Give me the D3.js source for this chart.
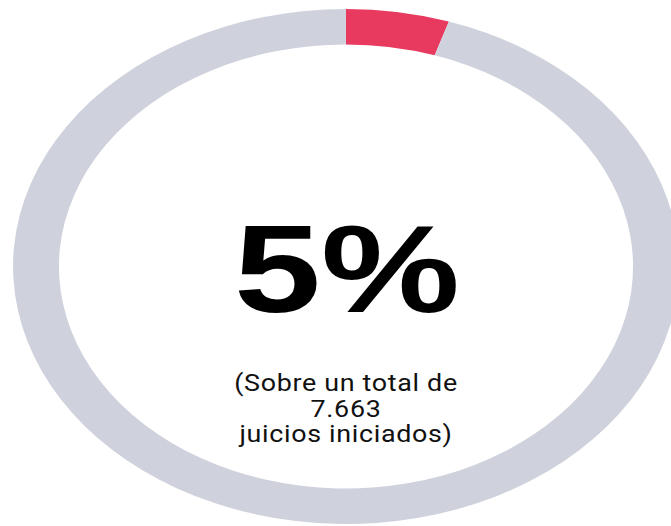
<!DOCTYPE html>
<html>
<head>
<meta charset="utf-8">
<script src="https://cdn.jsdelivr.net/npm/d3@7/dist/d3.min.js"></script>
<style>
  html, body { margin: 0; padding: 0; background: #ffffff; }
  svg { display: block; }
</style>
</head>
<body>
<div id="chart"></div>
<script>
// Share of trials started, out of the total
const categories = ["Juicios", "Resto"];
const values = [5, 95];
const totalTrials = "7.663";
const subtitleLines = ["(Sobre un total de", totalTrials, "juicios iniciados)"];
const colors = ["#e8395f", "#cfd2dc"];

const width = 671, height = 526;
const cx = 346, cy = 266.5;
const outerR = 257.5, innerR = 222;
const stretchX = 1.293;

const svg = d3.select("#chart").append("svg")
  .attr("width", width)
  .attr("height", height);

svg.append("rect").attr("width", width).attr("height", height).attr("fill", "#ffffff");

const color = d3.scaleOrdinal().domain(categories).range(colors);

const pie = d3.pie().sort(null).value(d => d.value);
const arc = d3.arc().innerRadius(innerR).outerRadius(outerR);

const data = categories.map((c, i) => ({ name: c, value: values[i] }));

const ring = svg.append("g")
  .attr("transform", `translate(${cx},${cy}) scale(${stretchX},1)`);

ring.selectAll("path")
  .data(pie(data))
  .join("path")
  .attr("d", arc)
  .attr("fill", d => color(d.data.name));

// Central percentage
const share = values[0] / d3.sum(values);
svg.append("text")
  .attr("transform", `translate(${cx + 1},312) scale(1.26,1)`)
  .attr("text-anchor", "middle")
  .attr("font-family", "'Liberation Sans', Arial, sans-serif")
  .attr("font-weight", "bold")
  .attr("font-size", 124)
  .attr("fill", "#000000")
  .text(d3.format(".0%")(share));

// Caption below
const caption = svg.append("g");
subtitleLines.forEach((line, i) => {
  caption.append("text")
    .attr("transform", `translate(${cx},${391 + i * 25.5}) scale(1.12,1)`)
    .attr("text-anchor", "middle")
    .attr("font-family", "Roboto, 'Liberation Sans', Arial, sans-serif")
    .attr("font-size", 24)
    .attr("letter-spacing", 0.6)
    .attr("fill", "#111111")
    .text(line);
});
</script>
</body>
</html>
